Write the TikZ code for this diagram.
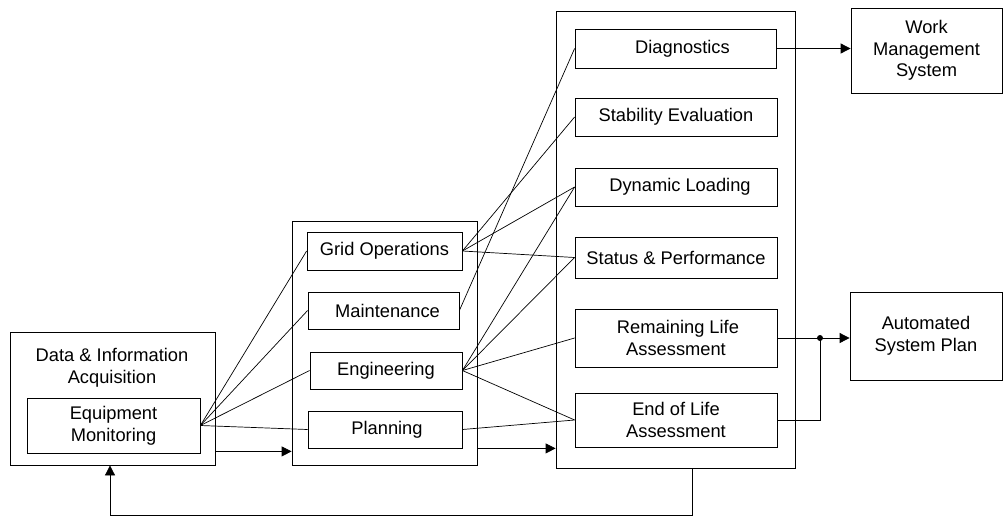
\documentclass[tikz,border=0pt]{standalone}
\usepackage{fontspec}
\setmainfont{Liberation Sans}
\usetikzlibrary{arrows.meta}
\begin{document}
\begin{tikzpicture}[x=1pt,y=-1pt,
  every node/.style={font=\fontsize{18.3}{21.7}\selectfont, align=center},
  box/.style={draw, line width=0.8pt, inner sep=0pt, minimum width=#1},
  conn/.style={line width=0.7pt},
  arr/.style={line width=0.8pt, -{Triangle[length=10pt,width=10pt]}},
  line/.style={line width=0.8pt}]
\useasboundingbox (0,0) rectangle (1004,517);
% outer boxes
\node[box=205pt, minimum height=133pt] (acq) at (112.5,398.5) {};
\node (acqtitle) at (112,368) {Data \& Information\\Acquisition};
\node[box=173pt, minimum height=55pt] (eqm) at (113.5,425.5) {Equipment\\Monitoring};
\node[box=185pt, minimum height=244pt] (mid) at (384.5,343) {};
\node[box=239pt, minimum height=457pt] (right) at (675.5,239.5) {};
% middle column
\node[box=155pt, minimum height=38pt] (grid) at (384.5,251) {Grid Operations};
\node[box=151pt, minimum height=37pt] (maint) at (383.5,310.5) {\hspace*{8pt}Maintenance};
\node[box=152pt, minimum height=37pt] (eng) at (386,370.5) {Engineering};
\node[box=154pt, minimum height=37pt] (plan) at (385,429.5) {\hspace*{4pt}Planning};
% right column
\node[box=201pt, minimum height=39pt] (diag) at (675.5,48.5) {\hspace*{14pt}Diagnostics};
\node[box=202pt, minimum height=38pt] (stab) at (676,117) {Stability Evaluation};
\node[box=202pt, minimum height=38pt] (dyn) at (676,187) {\hspace*{8pt}Dynamic Loading};
\node[box=202pt, minimum height=41pt] (stat) at (676,257.5) {Status \& Performance};
\node[box=202pt, minimum height=58pt] (rem) at (676,338) {\hspace*{4pt}Remaining Life\\Assessment};
\node[box=202pt, minimum height=54pt] (eol) at (676,420) {End of Life\\Assessment};
% outputs
\node[box=151pt, minimum height=85pt] (wms) at (926.5,50.5) {Work\\Management\\System};
\node[box=152pt, minimum height=88pt] (asp) at (926,336) {Automated\\System Plan};
% connections from equipment monitoring
\foreach \t in {grid,maint,eng,plan} \draw[conn] (eqm.east) -- (\t.west);
% middle to right
\draw[conn] (grid.east) -- (stab.west);
\draw[conn] (grid.east) -- (dyn.west);
\draw[conn] (grid.east) -- (stat.west);
\draw[conn] (maint.east) -- (diag.west);
\draw[conn] (eng.east) -- (dyn.west);
\draw[conn] (eng.east) -- (stat.west);
\draw[conn] (eng.east) -- (rem.west);
\draw[conn] (eng.east) -- (eol.west);
\draw[conn] (plan.east) -- (eol.west);
% outputs
\draw[arr] (diag.east) -- (diag.east -| wms.west);
\coordinate (junc) at (820,338);
\draw[arr] (rem.east) -- (rem.east -| asp.west);
\draw[line] (eol.east) -| (junc);
\fill (junc) circle (3pt);
% flow arrows
\coordinate (a1) at ([yshift=14pt]acq.south east);
\draw[arr] (a1) -- (a1 -| mid.west);
\coordinate (a2) at ([yshift=17pt]mid.south east);
\draw[arr] (a2) -- (a2 -| right.west);
% feedback
\coordinate (fb) at (692,515);
\draw[arr] (right.south -| fb) -- (fb) -- (fb -| 110,0) -- (acq.south -| 110,0);
\end{tikzpicture}
\end{document}
